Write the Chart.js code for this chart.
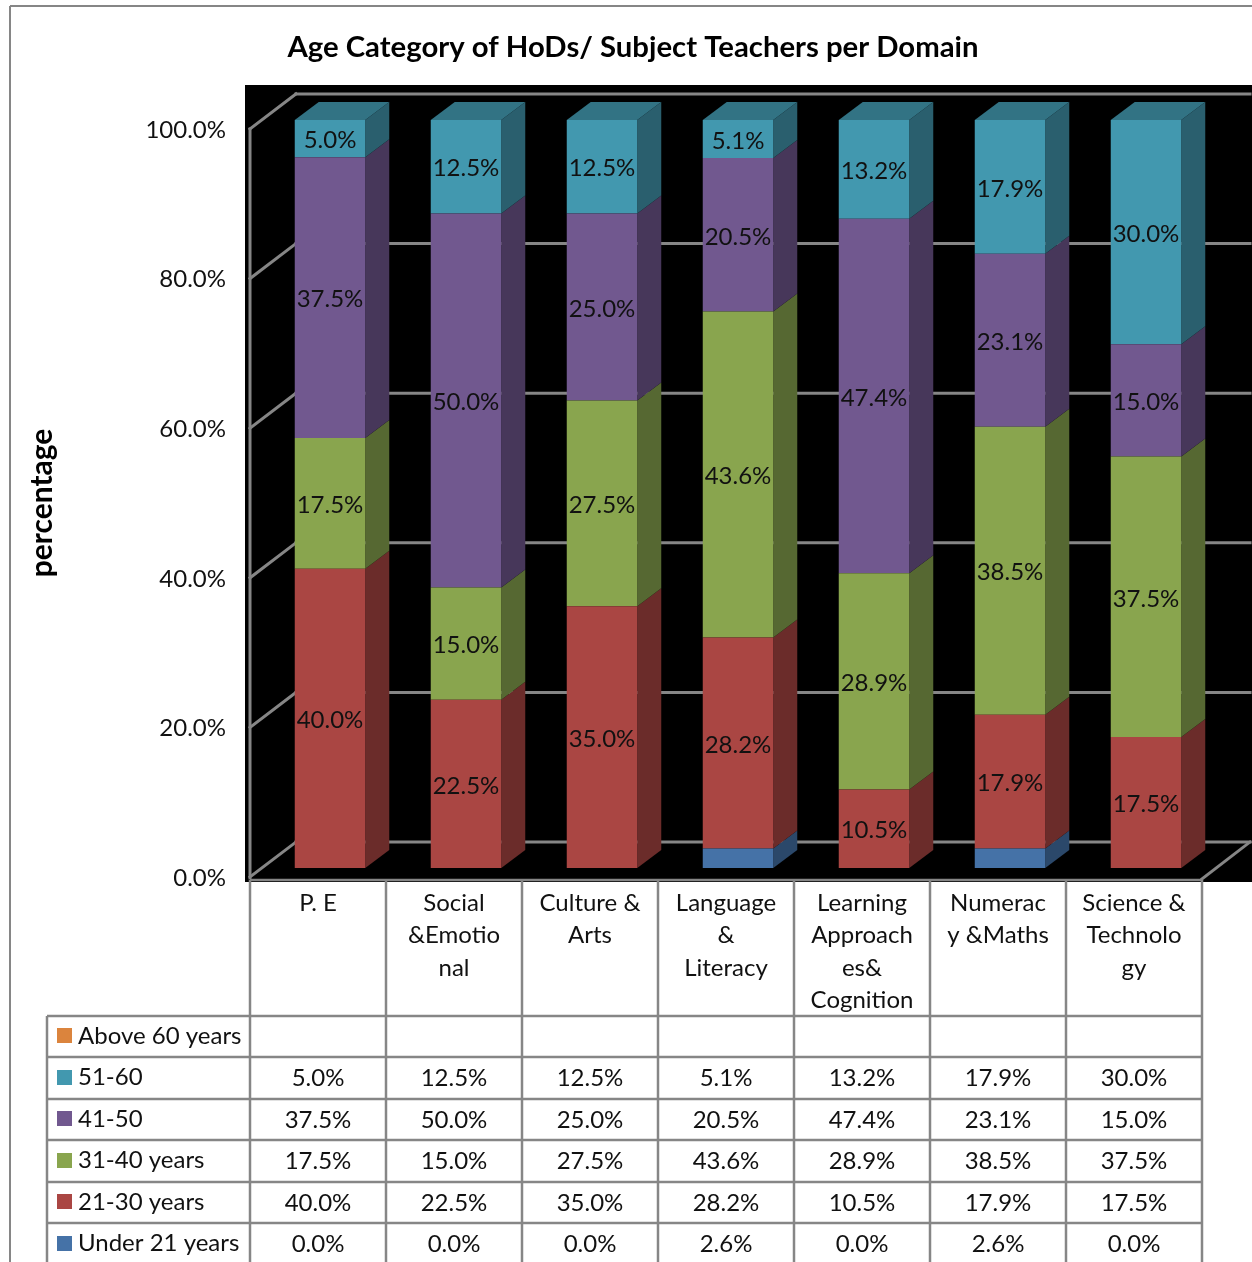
<!DOCTYPE html>
<html><head><meta charset="utf-8">
<style>html,body{margin:0;padding:0;background:#fff;overflow:hidden}canvas{display:block}</style>
<script src="https://cdn.jsdelivr.net/npm/chart.js@4"></script>
</head><body>
<canvas id="c" width="1252" height="1262"></canvas>
<script>
const categories=[["P. E"],["Social","&Emotio","nal"],["Culture &","Arts"],["Language","&","Literacy"],["Learning","Approach","es&","Cognition"],["Numerac","y &Maths"],["Science &","Technolo","gy"]];
const under21=[0,0,0,2.6,0,2.6,0];
const age21to30=[40,22.5,35,28.2,10.5,17.9,17.5];
const age31to40=[17.5,15,27.5,43.6,28.9,38.5,37.5];
const age41to50=[37.5,50,25,20.5,47.4,23.1,15];
const age51to60=[5,12.5,12.5,5.1,13.2,17.9,30];
const above60=[null,null,null,null,null,null,null];
const yTicks=[0,20,40,60,80,100];
const titleText="Age Category of HoDs/ Subject Teachers per Domain";
const yTitle="percentage";

const FONT='Lato';
const FS=24;
const GREY='#868686';
const DX=24,DY=18;
const pct=v=>v==null?'':v.toFixed(1)+'%';
const series=[
 {label:'Under 21 years',data:under21,color:'#4572A7',side:'#2B486A',top:'#34567E',show:false},
 {label:'21-30 years',data:age21to30,color:'#AA4643',side:'#6B2C2A',top:'#803432',show:true},
 {label:'31-40 years',data:age31to40,color:'#89A54E',side:'#566832',top:'#677C3B',show:true},
 {label:'41-50',data:age41to50,color:'#71588F',side:'#47375A',top:'#55426C',show:true},
 {label:'51-60',data:age51to60,color:'#4298AF',side:'#2A5F6E',top:'#327384',show:true},
 {label:'Above 60 years',data:above60,color:'#DB843D',side:'#8A5326',top:'#A5632E',show:true}
];
function poly(ctx,pts,fill){ctx.beginPath();pts.forEach((p,i)=>i?ctx.lineTo(p[0],p[1]):ctx.moveTo(p[0],p[1]));ctx.closePath();ctx.fillStyle=fill;ctx.fill();}
function seg(ctx,a,b){ctx.beginPath();ctx.moveTo(a[0],a[1]);ctx.lineTo(b[0],b[1]);ctx.stroke();}

const wall={id:'wall',
 beforeDraw(ch){const c=ch.ctx;c.save();c.fillStyle='#fff';c.fillRect(0,0,1252,1262);
  c.fillStyle='#000';c.fillRect(245,85,1007,797);c.restore();},
 beforeDatasetsDraw(ch){const c=ch.ctx,y=ch.scales.y;c.save();c.strokeStyle=GREY;c.lineWidth=3;c.lineCap='square';
  yTicks.forEach(v=>{const p=y.getPixelForValue(v);
   seg(c,[250,p+9],[296,p-26]);
   seg(c,[296,p-26],[1250,p-26]);});
  seg(c,[250,y.getPixelForValue(100)+9],[250,y.getPixelForValue(0)+10]);
  const p0=y.getPixelForValue(0);
  seg(c,[1202,p0+11],[1250,p0-26]);
  // 3D faces of the bars
  const last=categories.map(()=>-1);
  series.forEach((s,i)=>s.data.forEach((v,k)=>{if(v)last[k]=i;}));
  series.forEach((s,i)=>{const m=ch.getDatasetMeta(i);
   m.data.forEach((b,k)=>{if(!s.data[k])return;
    const w=b.width/2,r=b.x+w,l=b.x-w;
    poly(c,[[r,b.y],[r+DX,b.y-DY],[r+DX,b.base-DY],[r,b.base]],s.side);
    if(last[k]===i)poly(c,[[l,b.y],[l+DX,b.y-DY],[r+DX,b.y-DY],[r,b.y]],s.top);
   });});
  c.restore();},
 afterDatasetsDraw(ch){const c=ch.ctx;c.save();c.font=FS+'px '+FONT;c.fillStyle='#111';c.textAlign='center';c.textBaseline='middle';
  series.forEach((s,i)=>{if(!s.show)return;ch.getDatasetMeta(i).data.forEach((b,k)=>{const v=s.data[k];if(v==null)return;
    c.fillText(pct(v),b.x,(b.y+b.base)/2+2);});});
  c.restore();},
 afterDraw(ch){const c=ch.ctx,x=ch.scales.x;c.save();
  const rows=[1016,1057,1099,1140,1182,1223];
  c.strokeStyle=GREY;c.lineWidth=2.5;
  seg(c,[250,880],[1202,880]);
  rows.forEach(r=>seg(c,[47,r],[1202,r]));
  seg(c,[47,1016],[47,1262]);
  const colX=[];for(let i=0;i<=categories.length;i++){colX.push(x.getPixelForValue(i-0.5)-12);}
  colX.forEach(px=>seg(c,[px,880],[px,1262]));
  // outer frame
  c.lineWidth=2;seg(c,[10,6],[1252,6]);seg(c,[10,6],[10,1262]);
  // table rows, top one first
  const order=series.slice().reverse();
  c.font=FS+'px '+FONT;c.textBaseline='middle';
  order.forEach((s,i)=>{const cy=(i===5?1243.5:(rows[i]+rows[i+1])/2-0.5);
   c.fillStyle=s.color;c.fillRect(57,Math.round(cy)-8,15,15);
   c.fillStyle='#111';c.textAlign='left';c.fillText(s.label,78,cy);
   c.textAlign='center';
   s.data.forEach((v,k)=>c.fillText(pct(v),x.getPixelForValue(k)-12,cy+1));
  });
  // rotated axis title
  c.font='bold 30px '+FONT;c.textAlign='center';c.textBaseline='middle';c.fillStyle='#000';
  c.translate(42,503);c.rotate(-Math.PI/2);c.fillText(yTitle,0,0);
  c.restore();}
};

new Chart(document.getElementById('c'),{
 type:'bar',
 data:{labels:categories,datasets:series.map(s=>({label:s.label,data:s.data,backgroundColor:s.color,barPercentage:70.5/136,categoryPercentage:1,borderWidth:0}))},
 options:{responsive:false,animation:false,
  layout:{padding:{left:52,right:38,top:0,bottom:0}},
  plugins:{legend:{display:false},tooltip:{enabled:false},
   title:{display:true,text:titleText,color:'#000',font:{family:FONT,size:29.3,weight:'bold',lineHeight:1.2},padding:{top:30,bottom:54.8}}},
  scales:{
   x:{stacked:true,grid:{display:false},border:{display:false},afterFit(s){s.height=394;},
    ticks:{color:'#111',font:{family:FONT,size:FS,lineHeight:1.35},padding:11,labelOffset:-12,maxRotation:0,minRotation:0,autoSkip:false}},
   y:{stacked:true,min:0,max:100,grid:{display:false},border:{display:false},afterFit(s){s.width=210;},
    ticks:{stepSize:20,color:'#111',font:{family:FONT,size:FS},padding:28,labelOffset:10,callback:v=>v.toFixed(1)+'%'}}
  }},
 plugins:[wall]
});
</script>
</body></html>
